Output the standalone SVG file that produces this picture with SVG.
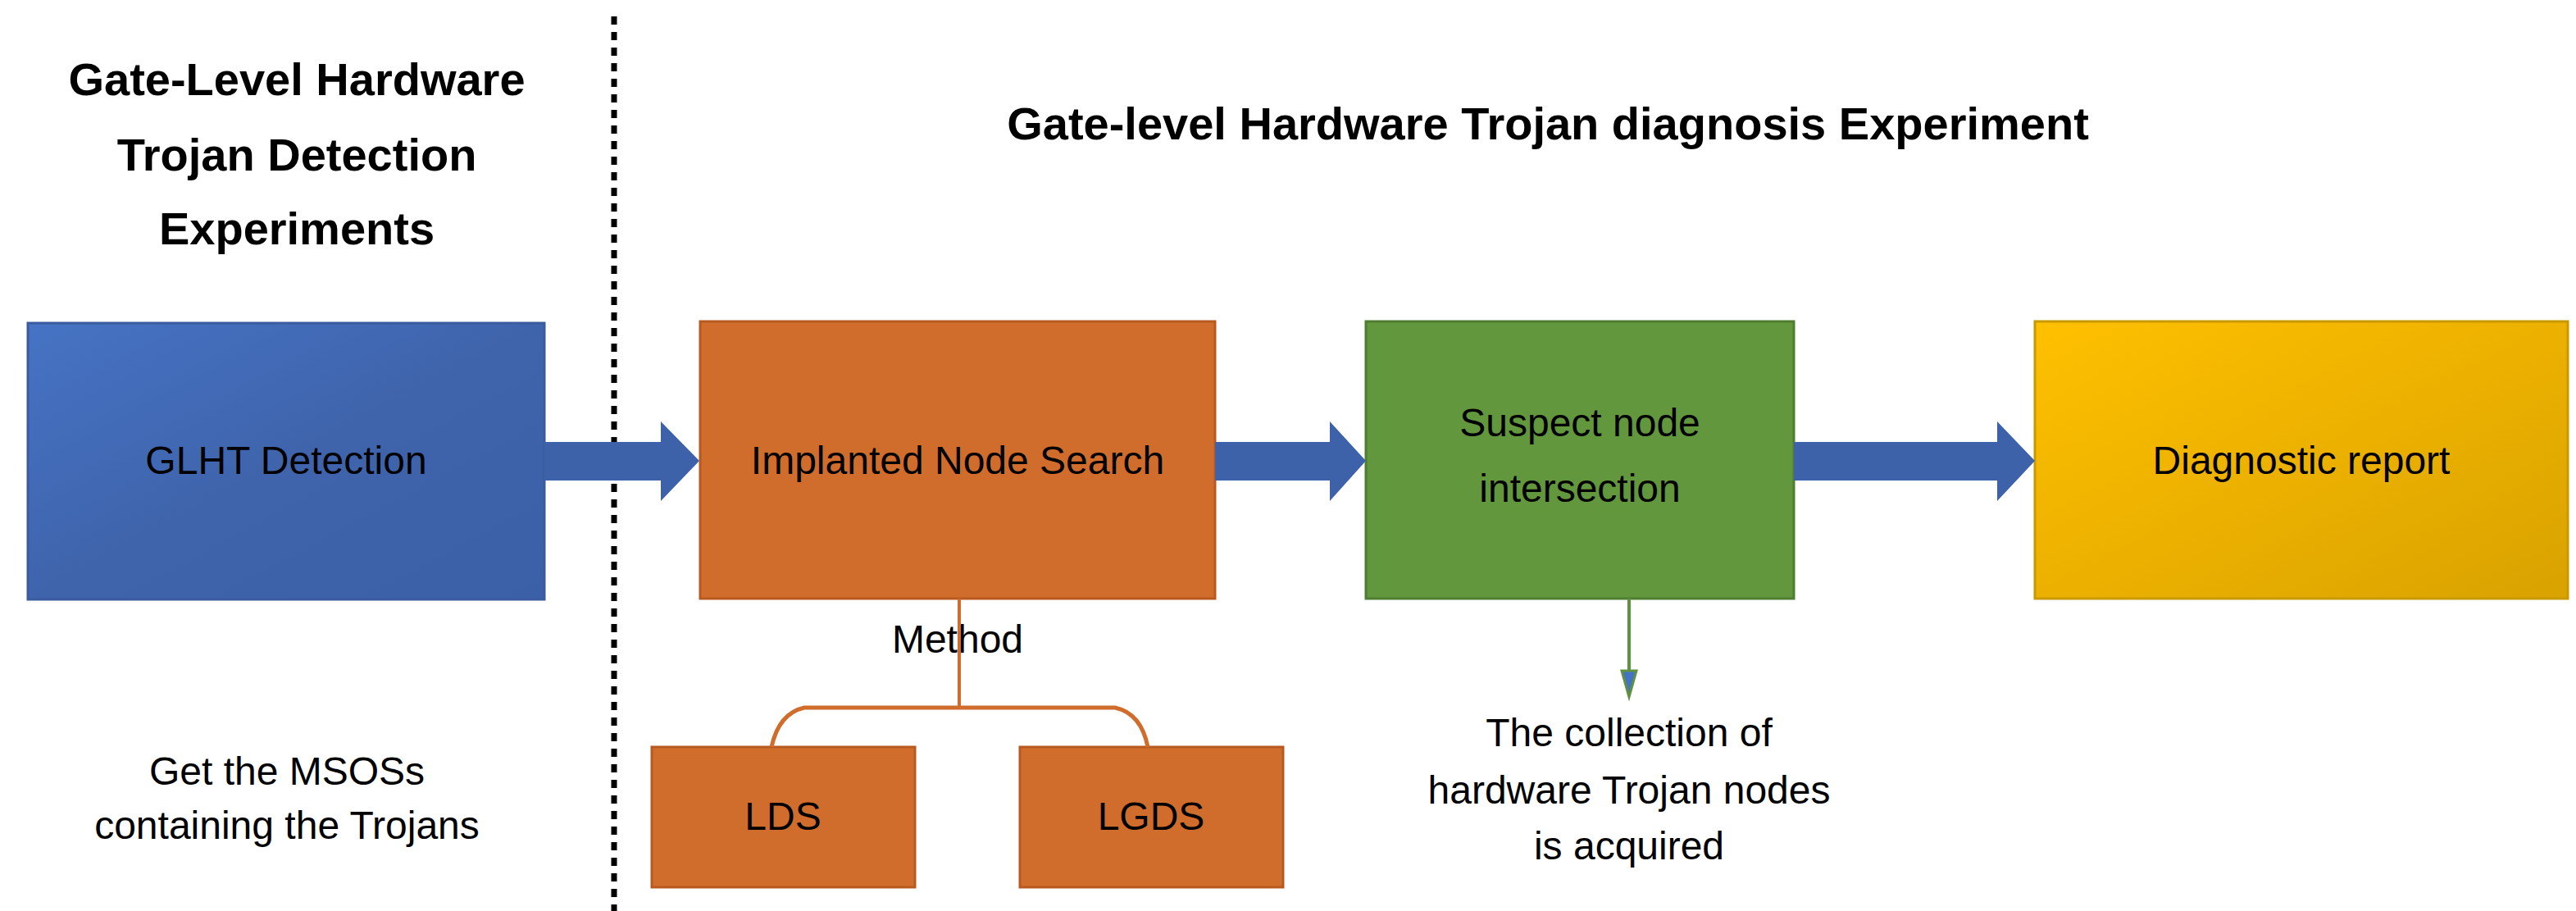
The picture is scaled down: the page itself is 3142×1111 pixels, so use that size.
<svg xmlns="http://www.w3.org/2000/svg" width="3142" height="1111" viewBox="0 0 3142 1111">
<style>
text{font-family:"Liberation Sans",Arial,sans-serif;fill:#000;text-anchor:middle}
.t{font-size:56px;font-weight:bold}
.b{font-size:48px}
</style>
<defs>
<linearGradient id="gb" x1="0" y1="0" x2="1" y2="1"><stop offset="0" stop-color="#4673C4"/><stop offset="0.5" stop-color="#3F64AC"/><stop offset="1" stop-color="#3B60A8"/></linearGradient>
<linearGradient id="gy" x1="0" y1="0" x2="1" y2="1"><stop offset="0" stop-color="#FFC000"/><stop offset="1" stop-color="#D9A200"/></linearGradient>
</defs>
<rect width="3142" height="1111" fill="#fff"/>
<line x1="749" y1="20" x2="749" y2="1111" stroke="#000" stroke-width="7" stroke-dasharray="10,9"/>
<g id="titles">
<text class="t" x="362" y="116">Gate-Level Hardware</text>
<text class="t" x="362" y="208">Trojan Detection</text>
<text class="t" x="362" y="298">Experiments</text>
<text class="t" x="1888" y="170">Gate-level Hardware Trojan diagnosis Experiment</text>
</g>
<g id="n-glht"><rect x="34" y="394" width="630" height="337" fill="url(#gb)" stroke="#3A5C9E" stroke-width="3"/><text class="b" x="349" y="578">GLHT Detection</text></g>
<g id="n-ins"><rect x="854" y="392" width="628" height="338" fill="#D06C2C" stroke="#B85A20" stroke-width="3"/><text class="b" x="1168" y="578">Implanted Node Search</text></g>
<g id="n-sni"><rect x="1666" y="392" width="522" height="338" fill="#62973D" stroke="#4F7E30" stroke-width="3"/><text class="b" x="1927" y="532">Suspect node</text><text class="b" x="1927" y="612">intersection</text></g>
<g id="n-dr"><rect x="2482" y="392" width="650" height="338" fill="url(#gy)" stroke="#C99A00" stroke-width="3"/><text class="b" x="2807" y="578">Diagnostic report</text></g>
<g id="n-lds"><rect x="795" y="911" width="321" height="171" fill="#D06C2C" stroke="#B85A20" stroke-width="3"/><text class="b" x="955" y="1012">LDS</text></g>
<g id="n-lgds"><rect x="1244" y="911" width="321" height="171" fill="#D06C2C" stroke="#B85A20" stroke-width="3"/><text class="b" x="1404" y="1012">LGDS</text></g>
<g id="labels">
<text class="b" x="350" y="957">Get the MSOSs</text>
<text class="b" x="350" y="1023">containing the Trojans</text>
<text class="b" x="1168" y="796">Method</text>
<text class="b" x="1987" y="910">The collection of</text>
<text class="b" x="1987" y="980">hardware Trojan nodes</text>
<text class="b" x="1987" y="1048">is acquired</text>
</g>
<g id="connectors">
<polygon points="664,539 806,539 806,514 853,562 806,611 806,586 664,586" fill="#3D62AA"/>
<polygon points="1482,539 1622,539 1622,514 1666,562 1622,611 1622,586 1482,586" fill="#3D62AA"/>
<polygon points="2188,539 2436,539 2436,514 2482,562 2436,611 2436,586 2188,586" fill="#3D62AA"/>
<line x1="1170" y1="730" x2="1170" y2="863" stroke="#D06C2C" stroke-width="4"/>
<path d="M941,911 Q950,870 981,863 L1360,863 Q1392,870 1400,911" fill="none" stroke="#D06C2C" stroke-width="5"/>
<line x1="1987" y1="730" x2="1987" y2="820" stroke="#5E9140" stroke-width="4"/>
<polygon points="1978,818 1996,818 1987,850" fill="#4472C4" stroke="#5E9140" stroke-width="3"/>
</g>
</svg>
